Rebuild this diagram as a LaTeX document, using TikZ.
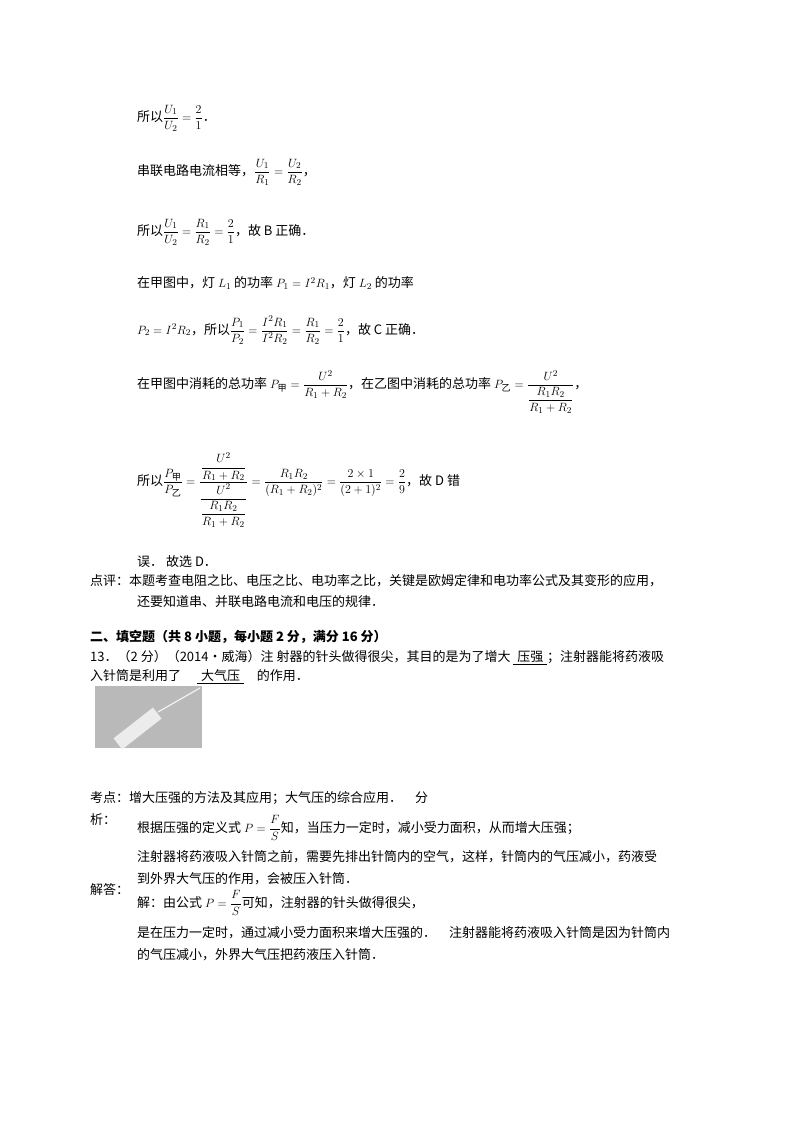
\documentclass[tikz,border=0pt]{standalone}
\usepackage{fontspec}
\usepackage{amsmath}
\setmainfont{Noto Sans CJK SC}
\usetikzlibrary{positioning}
\newcommand{\jia}{\text{甲}}
\newcommand{\yi}{\text{乙}}
\newcommand{\ul}[1]{\underline{\hspace{0.3em}#1\hspace{0.3em}}}

\begin{document}
\begin{tikzpicture}[x=1pt,y=-1pt,%
  txt/.style={anchor=west,inner sep=0pt,font=\fontsize{13}{15}\selectfont},%
  head/.style={txt,font=\fontsize{13}{15}\selectfont\bfseries}%
  ]
  \useasboundingbox (0,0) rectangle (800,1132);
%
  \node[txt] (l1) at (137,118) {所以$\dfrac{U_1}{U_2}=\dfrac{2}{1}$．};
  \node[txt] (l2) at (137,172) {串联电路电流相等，$\dfrac{U_1}{R_1}=\dfrac{U_2}{R_2}$，};
  \node[txt] (l3) at (137,232) {所以$\dfrac{U_1}{U_2}=\dfrac{R_1}{R_2}=\dfrac{2}{1}$，故 B 正确．};
  \node[txt] (l4) at (137,283) {在甲图中，灯 $L_1$ 的功率 $P_1=I^2R_1$，灯 $L_2$ 的功率};
  \node[txt] (l5) at (137,330) {$P_2=I^2R_2$，所以$\dfrac{P_1}{P_2}=\dfrac{I^2R_1}{I^2R_2}=\dfrac{R_1}{R_2}=\dfrac{2}{1}$，故 C 正确．};
  \node[txt] (l6) at (137,392) {在甲图中消耗的总功率 $P_{\jia}=\dfrac{U^2}{R_1+R_2}$，在乙图中消耗的总功率 $P_{\yi}=\dfrac{U^2}{\dfrac{R_1R_2}{R_1+R_2}}$，};
  \node[txt] (l7) at (137,490) {所以$\dfrac{P_{\jia}}{P_{\yi}}=\dfrac{\dfrac{U^2}{R_1+R_2}}{\dfrac{U^2}{\dfrac{R_1R_2}{R_1+R_2}}}=\dfrac{R_1R_2}{(R_1+R_2)^2}=\dfrac{2\times1}{(2+1)^2}=\dfrac{2}{9}$，故 D 错};
  \node[txt] (l8) at (137,562) {误． 故选 D．};
  \node[txt] (l9) at (90,581) {点评：本题考查电阻之比、电压之比、电功率之比，关键是欧姆定律和电功率公式及其变形的应用，};
  \node[txt] (l10) at (137,602) {还要知道串、并联电路电流和电压的规律．};
%
  \node[head] (h1) at (90,637) {二、填空题（共 8 小题，每小题 2 分，满分 16 分）};
  \node[txt] (q1) at (90,658) {13．（2 分）（2014•威海）注 射器的针头做得很尖，其目的是为了增大 \ul{压强}；注射器能将药液吸};
  \node[txt] (q2) at (90,677) {入针筒是利用了 \quad\ul{大气压}\quad 的作用．};
%
  \fill[gray!55] (95,686) rectangle (202,748);
  \fill[gray!15,rotate around={38:(150,720)}] (110,712) rectangle (160,726);
  \draw[gray!10,line width=1.2pt] (158,712) -- (200,688);
%
  \node[txt] (k1) at (90,798) {考点：增大压强的方法及其应用；大气压的综合应用．\quad 分};
  \node[txt] (k2) at (90,820) {析：};
  \node[txt] (k3) at (137,828) {根据压强的定义式 $P=\dfrac{F}{S}$知，当压力一定时，减小受力面积，从而增大压强；};
  \node[txt] (k4) at (137,857) {注射器将药液吸入针筒之前，需要先排出针筒内的空气，这样，针筒内的气压减小，药液受};
  \node[txt] (k5) at (137,879) {到外界大气压的作用，会被压入针筒．};
  \node[txt] (k6) at (90,890) {解答：};
  \node[txt] (k7) at (137,903) {解：由公式 $P=\dfrac{F}{S}$可知，注射器的针头做得很尖，};
  \node[txt] (k8) at (137,933) {是在压力一定时，通过减小受力面积来增大压强的．\quad 注射器能将药液吸入针筒是因为针筒内};
  \node[txt] (k9) at (137,955) {的气压减小，外界大气压把药液压入针筒．};
%
\end{tikzpicture}
\end{document}
